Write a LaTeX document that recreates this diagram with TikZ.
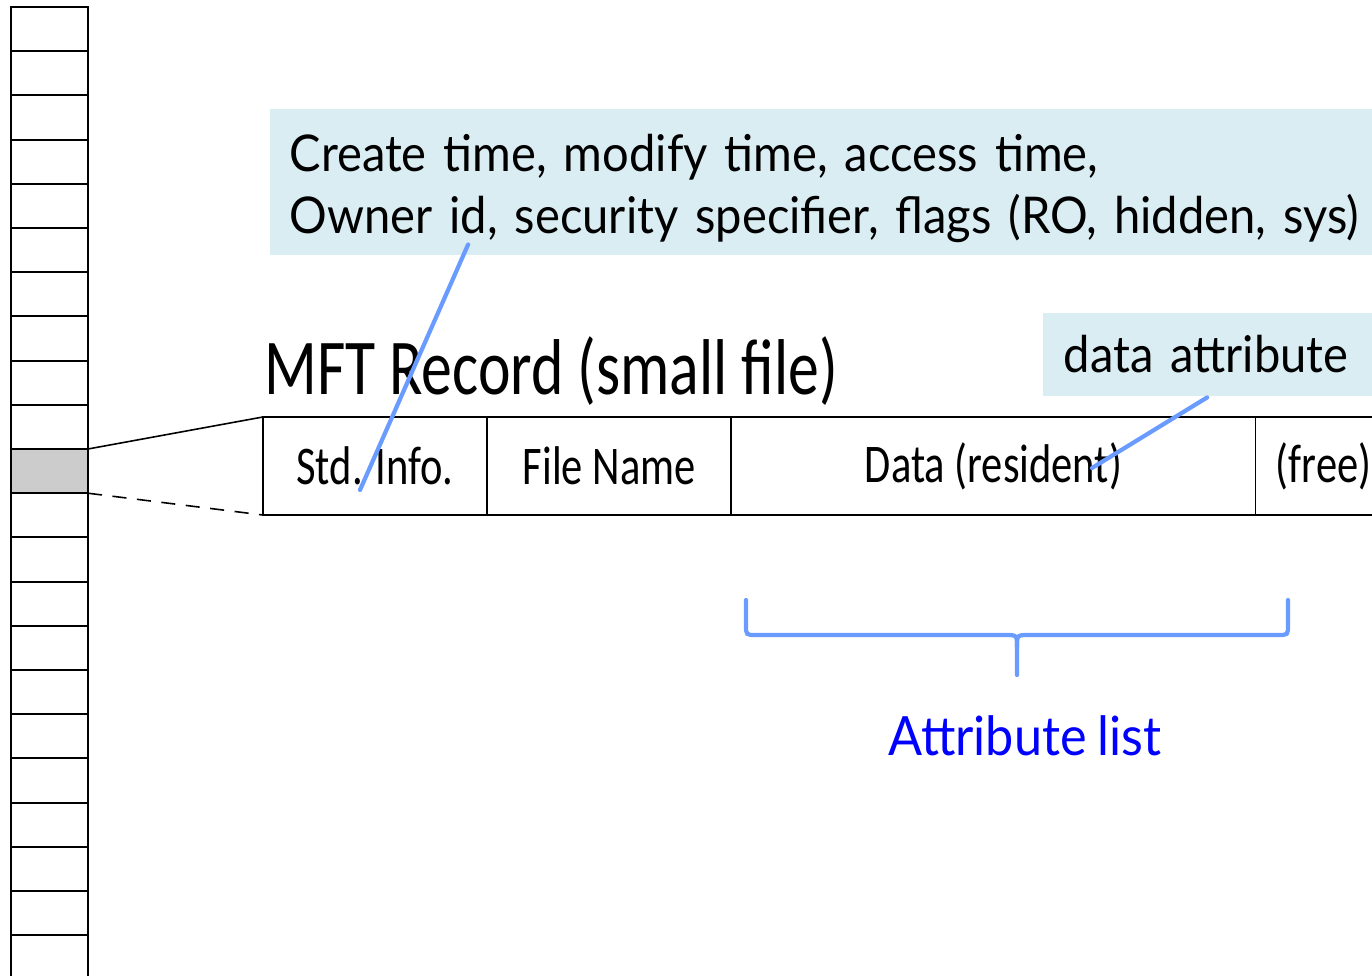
\documentclass[tikz,border=0pt]{standalone}
\usepackage{fontspec}
\setmainfont[FakeStretch=0.93,WordSpace=0.85]{Lato}
\newfontfamily\condfont[FakeStretch=0.78]{Carlito}
\usetikzlibrary{positioning}
\definecolor{notebg}{HTML}{DAEDF3}
\definecolor{pointerblue}{HTML}{6A9BFF}

\begin{document}
\begin{tikzpicture}[x=0.01cm,y=-0.01cm,
    slot/.style={draw,line width=0.6pt,outer sep=0pt,minimum width=0.77cm,minimum height=0.442cm,inner sep=0pt},
    field/.style={draw,line width=0.45pt,outer sep=0pt,minimum height=0.98cm,inner sep=0pt,font=\condfont\fontsize{15.5}{18}\selectfont},
    note/.style={fill=notebg,inner sep=0pt,align=left,font=\fontsize{14.4}{17.6}\selectfont},
    pointer/.style={draw=pointerblue,line width=1.2pt,line cap=round}]
    \useasboundingbox (0,0) rectangle (1372,976);
    % the MFT itself
    \foreach \i in {0,...,9,11,12,...,22}
        \node[slot] (m\i) at (49.5,29.1+44.2*\i) {};
    \node[slot,fill=black!20] (sel) at (49.5,29.1+44.2*10) {};
    % one record
    \node[field,minimum width=2.24cm,anchor=west] (std) at (263,466) {Std. Info.};
    \node[field,minimum width=2.44cm,right=0pt of std] (fname) {File Name};
    \node[field,minimum width=5.24cm,right=0pt of fname] (data) {Data (resident)};
    \node[field,minimum width=1.36cm,right=0pt of data] (free) {(free)};
    \node[anchor=base west,font=\condfont\fontsize{22.5}{26}\selectfont] (title) at (252,395) {MFT Record (small file)};
    \draw[line width=0.45pt] (sel.north east) -- (std.north west);
    \draw[line width=0.45pt,dash pattern=on 4pt off 3pt] (sel.south east) -- (std.south west);
    % notes
    \node[note,anchor=north west,text width=11.5cm,inner xsep=0.2cm,minimum height=1.46cm] (times) at (269,108)
        {\rule{0pt}{0.5cm}Create time, modify time, access time,\\Owner id, security specifier, flags (RO, hidden, sys)};
    \node[note,anchor=north west,text width=3.6cm,inner xsep=0.21cm,minimum height=0.83cm] (dattr) at (1042,312) {data attribute};
    \coordinate (stdend) at (360,490);
    \coordinate (dataend) at (1092,468);
    \draw[pointer] ([xshift=1.99cm,yshift=0.11cm]times.south west) -- (stdend);
    \draw[pointer] ([xshift=1.65cm,yshift=-0.01cm]dattr.south west) -- (dataend);
    % brace
    \node[anchor=base,text=blue,font=\fontsize{15.4}{18}\selectfont] (attrlist) at (1025,755) {Attribute list};
    \draw[pointer] (746,600) -- (746,625) .. controls (746,635) .. (756,635) -- (1005,635)
        .. controls (1017,635) .. (1017,647) -- (1017,675);
    \draw[pointer] (1288,600) -- (1288,625) .. controls (1288,635) .. (1278,635) -- (1029,635)
        .. controls (1017,635) .. (1017,647);
\end{tikzpicture}
\end{document}
